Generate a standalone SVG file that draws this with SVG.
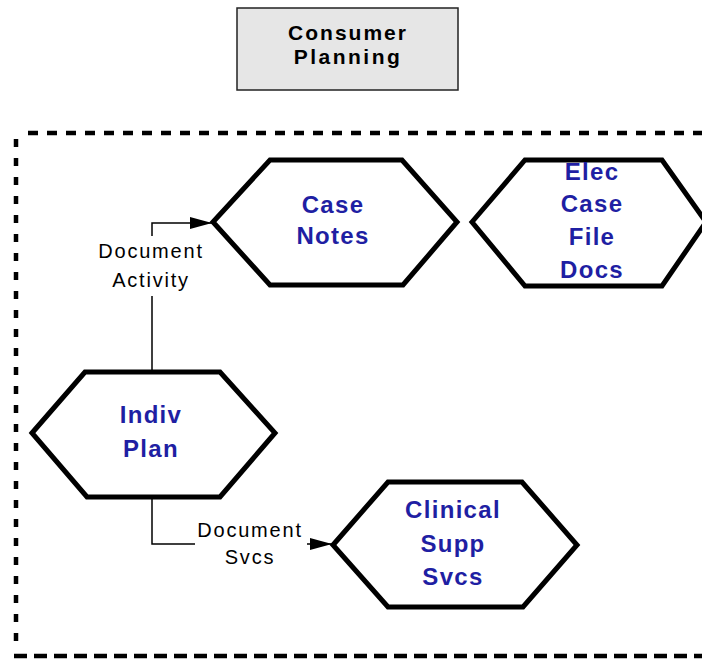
<svg xmlns="http://www.w3.org/2000/svg" width="702" height="660" viewBox="0 0 702 660">
<defs>
<style>
.hex{fill:#ffffff;stroke:#000000;stroke-width:5;stroke-linejoin:miter}
.ht{font-family:"Liberation Sans",Arial,sans-serif;font-weight:bold;font-size:24px;fill:#1f1fa3;text-anchor:middle;letter-spacing:1.3px}
.lbl{font-family:"Liberation Sans",Arial,sans-serif;font-size:20px;fill:#000;text-anchor:middle;letter-spacing:1.8px}
.conn{fill:none;stroke:#000;stroke-width:1.5}
.bd{fill:none;stroke:#000;stroke-width:4.5}
</style>
<marker id="arr" viewBox="0 0 22 12" refX="22" refY="6" markerWidth="22" markerHeight="12" markerUnits="userSpaceOnUse" orient="auto">
<path d="M0,0 L22,6 L0,12 z" fill="#000"/>
</marker>
</defs>
<rect width="702" height="660" fill="#ffffff"/>
<g id="boundary">
<line class="bd" x1="28" y1="133" x2="702" y2="133" stroke-dasharray="10 9"/>
<line class="bd" x1="16" y1="139" x2="16" y2="652" stroke-dasharray="8 11"/>
<line class="bd" x1="14" y1="656" x2="702" y2="656" stroke-width="5.5" stroke-dasharray="13 7"/>
</g>
<g id="consumer-planning">
<rect x="237" y="8" width="221" height="82" fill="#e6e6e6" stroke="#222" stroke-width="1.5"/>
<text x="348" y="40" font-family="Liberation Sans,Arial,sans-serif" font-weight="bold" font-size="21" text-anchor="middle" letter-spacing="2">Consumer</text>
<text x="348" y="64" font-family="Liberation Sans,Arial,sans-serif" font-weight="bold" font-size="21" text-anchor="middle" letter-spacing="2.5">Planning</text>
</g>
<g id="connectors">
<path class="conn" d="M152,372 V223 H212" marker-end="url(#arr)"/>
<rect x="92" y="236" width="120" height="60" fill="#fff"/>
<text class="lbl" x="151" y="258">Document</text>
<text class="lbl" x="151" y="287">Activity</text>
<path class="conn" d="M152,497 V544 H332" marker-end="url(#arr)"/>
<rect x="195" y="520" width="112" height="50" fill="#fff"/>
<text class="lbl" x="250" y="537">Document</text>
<text class="lbl" x="250" y="564">Svcs</text>
</g>
<g id="case-notes">
<polygon class="hex" points="213,222 270,160 402,160 457,222 403,285 270,285"/>
<text class="ht" x="333" y="213">Case</text>
<text class="ht" x="333" y="244">Notes</text>
</g>
<g id="elec-case-file-docs">
<polygon class="hex" points="472,222 525,160 662,160 706,222 662,286 525,286"/>
<text class="ht" x="592" y="180">Elec</text>
<text class="ht" x="592" y="212">Case</text>
<text class="ht" x="592" y="245">File</text>
<text class="ht" x="592" y="278">Docs</text>
</g>
<g id="indiv-plan">
<polygon class="hex" points="32,433 85,372 220,372 275,433 220,497 87,497"/>
<text class="ht" x="151" y="423">Indiv</text>
<text class="ht" x="151" y="457">Plan</text>
</g>
<g id="clinical-supp-svcs">
<polygon class="hex" points="333,545 388,482 522,482 577,545 523,607 388,607"/>
<text class="ht" x="453" y="518">Clinical</text>
<text class="ht" x="453" y="552">Supp</text>
<text class="ht" x="453" y="585">Svcs</text>
</g>
</svg>
